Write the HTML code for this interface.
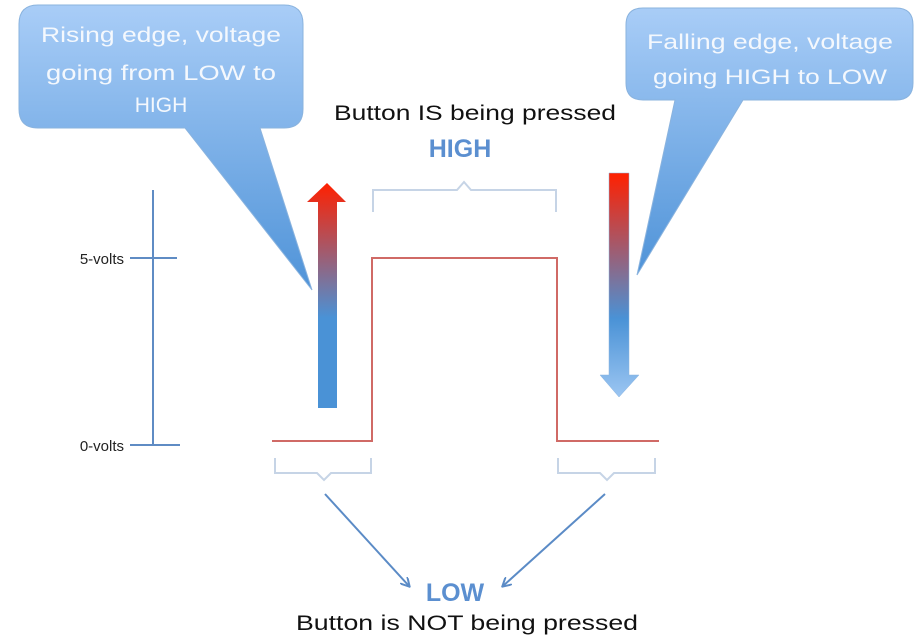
<!DOCTYPE html>
<html><head><style>body{margin:0;background:#fff}svg{display:block}</style></head><body>
<svg width="918" height="639" viewBox="0 0 918 639" xmlns="http://www.w3.org/2000/svg" font-family="Liberation Sans, sans-serif">
<defs>
<linearGradient id="cb" x1="0" y1="0" x2="0" y2="1"><stop offset="0" stop-color="#a9cdf7"/><stop offset="1" stop-color="#4f93d8"/></linearGradient>
<linearGradient id="cb2" x1="0" y1="0" x2="0" y2="1"><stop offset="0" stop-color="#a9cdf7"/><stop offset="1" stop-color="#4f93d8"/></linearGradient>
<linearGradient id="up" x1="0" y1="0" x2="0" y2="1"><stop offset="0" stop-color="#ff2000"/><stop offset="0.6" stop-color="#4a92d6"/><stop offset="1" stop-color="#4a92d6"/></linearGradient>
<linearGradient id="dn" x1="0" y1="0" x2="0" y2="1"><stop offset="0" stop-color="#ff2000"/><stop offset="0.65" stop-color="#4a92d6"/><stop offset="1" stop-color="#9cc6f2"/></linearGradient>
<marker id="ah" markerWidth="10" markerHeight="10" refX="8" refY="5" orient="auto" markerUnits="userSpaceOnUse"><path d="M0,0 L9,5 L0,10" fill="none" stroke="#5b8bc6" stroke-width="2"/></marker>
</defs>
<!-- left callout -->
<path d="M38,5 H284 Q303,5 303,24 V109 Q303,128 284,128 H260 L312,290 L185,128 H38 Q19,128 19,109 V24 Q19,5 38,5 Z" fill="url(#cb)" stroke="#8ab3de" stroke-width="1"/>
<g fill="#f4f8fd" font-size="21" text-anchor="middle">
<text x="161" y="42" textLength="240" lengthAdjust="spacingAndGlyphs">Rising edge, voltage</text>
<text x="161" y="80" textLength="230" lengthAdjust="spacingAndGlyphs">going from LOW to</text>
<text x="161" y="112">HIGH</text>
</g>
<!-- right callout -->
<path d="M643,8 H896 Q913,8 913,25 V83 Q913,100 896,100 H743 L637,275 L675,100 H643 Q626,100 626,83 V25 Q626,8 643,8 Z" fill="url(#cb2)" stroke="#8ab3de" stroke-width="1"/>
<g fill="#f4f8fd" font-size="21" text-anchor="middle">
<text x="770" y="49" textLength="246" lengthAdjust="spacingAndGlyphs">Falling edge, voltage</text>
<text x="770" y="84" textLength="234" lengthAdjust="spacingAndGlyphs">going HIGH to LOW</text>
</g>
<!-- titles -->
<text x="475" y="120" font-size="21" text-anchor="middle" fill="#111" textLength="282" lengthAdjust="spacingAndGlyphs">Button IS being pressed</text>
<text x="460" y="157" font-size="25" font-weight="bold" text-anchor="middle" fill="#5b8fd0">HIGH</text>
<!-- axis -->
<g stroke="#5f8cc4" stroke-width="2">
<line x1="153" y1="190" x2="153" y2="445"/>
<line x1="130" y1="258" x2="177" y2="258"/>
<line x1="130" y1="445" x2="180" y2="445"/>
</g>
<text x="124" y="264" font-size="15" text-anchor="end" fill="#222">5-volts</text>
<text x="124" y="451" font-size="15" text-anchor="end" fill="#222">0-volts</text>
<!-- signal -->
<path d="M272,441 H372 V258 H557 V441 H659" fill="none" stroke="#d06a66" stroke-width="2"/>
<!-- arrows -->
<path d="M318,408 V202 H307 L327,183 L346,202 H337 V408 Z" fill="url(#up)"/>
<path d="M609,173 H629 V375 H639 L619,397 L600,375 H609 Z" fill="url(#dn)" stroke="#8ab3de" stroke-width="0.5"/>
<!-- braces -->
<g fill="none" stroke="#c6d4e6" stroke-width="2">
<path d="M373,212 V190 H457 L464,182 L471,190 H556 V212"/>
<path d="M275,458 V473 H317 L324,480 L331,473 H371 V458"/>
<path d="M558,458 V473 H600 L607,480 L614,473 H655 V458"/>
</g>
<g stroke="#5b8bc6" stroke-width="2" marker-end="url(#ah)">
<line x1="325" y1="494" x2="409" y2="586"/>
<line x1="605" y1="494" x2="503" y2="586"/>
</g>
<text x="455" y="601" font-size="25" font-weight="bold" text-anchor="middle" fill="#5b8fd0">LOW</text>
<text x="467" y="630" font-size="21" text-anchor="middle" fill="#111" textLength="342" lengthAdjust="spacingAndGlyphs">Button is NOT being pressed</text>
</svg>
</body></html>
